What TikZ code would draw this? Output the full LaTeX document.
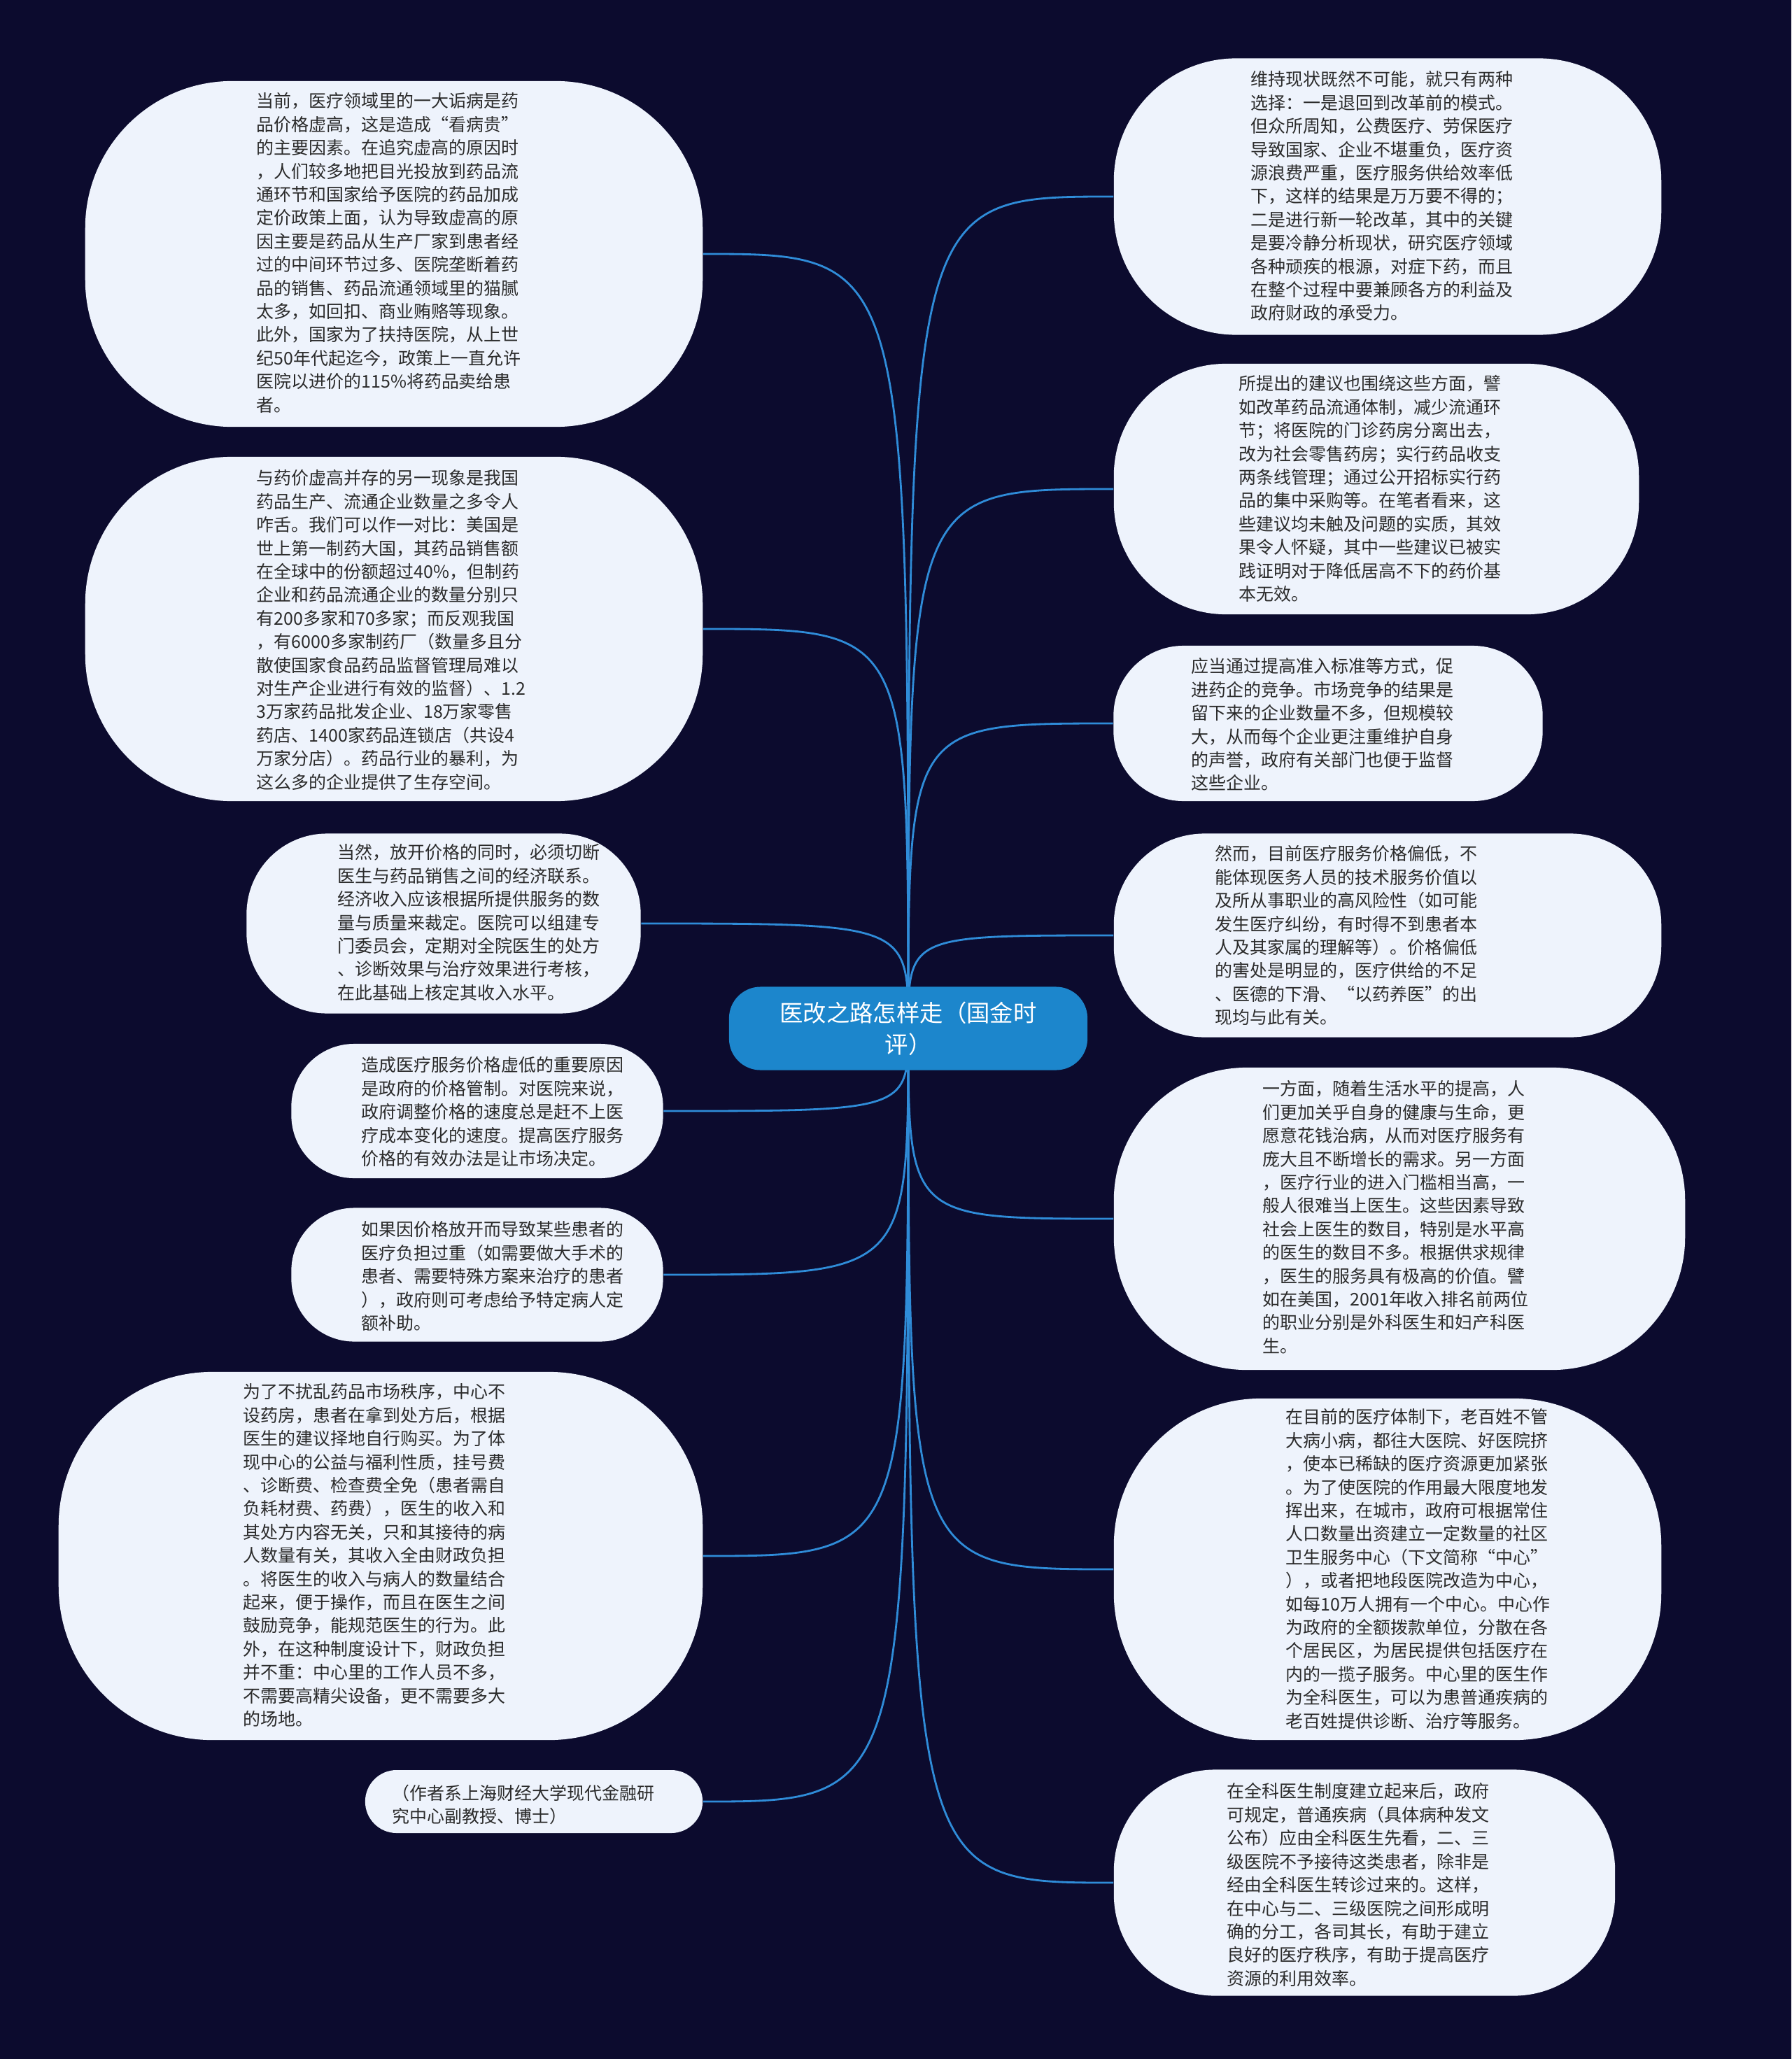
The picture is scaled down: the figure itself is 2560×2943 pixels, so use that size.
\documentclass[tikz,border=0pt]{standalone}
\usepackage{fontspec}
\setmainfont{Noto Sans CJK SC}
\usepackage{tikz}
\usetikzlibrary{backgrounds}
\definecolor{bgnavy}{HTML}{0C0B2E}
\definecolor{bubblefill}{HTML}{EEF3FC}
\definecolor{linkblue}{HTML}{2F8CD8}
\definecolor{rootblue}{HTML}{1C86CC}
\definecolor{textgrey}{HTML}{2B2B2B}

\begin{document}
\begin{tikzpicture}[x=0.01cm, y=-0.01cm,
  bubble/.style n args={3}{rectangle, fill=bubblefill, inner sep=0pt, minimum width=#1, minimum height=#2, rounded corners=#3},
  txt/.style={anchor=north west, inner sep=0pt, align=left, text=textgrey, font=\fontsize{7.1}{9.5}\selectfont},
  link/.style={draw=linkblue, line width=0.8pt}]
  \useasboundingbox (0,0) rectangle (2560,2943);

  \node [bubble={8.82cm}{4.94cm}{2.1cm}] (lb1) at (563,363) {};
  \node [txt] (lb1t) at (366,132) {当前，医疗领域里的一大诟病是药\\品价格虚高，这是造成“看病贵”\\的主要因素。在追究虚高的原因时\\，人们较多地把目光投放到药品流\\通环节和国家给予医院的药品加成\\定价政策上面，认为导致虚高的原\\因主要是药品从生产厂家到患者经\\过的中间环节过多、医院垄断着药\\品的销售、药品流通领域里的猫腻\\太多，如回扣、商业贿赂等现象。\\此外，国家为了扶持医院，从上世\\纪50年代起迄今，政策上一直允许\\医院以进价的115\%将药品卖给患\\者。};
  \node [bubble={8.82cm}{4.92cm}{2.1cm}] (lb2) at (563,899) {};
  \node [txt] (lb2t) at (366,671) {与药价虚高并存的另一现象是我国\\药品生产、流通企业数量之多令人\\咋舌。我们可以作一对比：美国是\\世上第一制药大国，其药品销售额\\在全球中的份额超过40\%，但制药\\企业和药品流通企业的数量分别只\\有200多家和70多家；而反观我国\\，有6000多家制药厂（数量多且分\\散使国家食品药品监督管理局难以\\对生产企业进行有效的监督）、1.2\\3万家药品批发企业、18万家零售\\药店、1400家药品连锁店（共设4\\万家分店）。药品行业的暴利，为\\这么多的企业提供了生存空间。};
  \node [bubble={5.63cm}{2.57cm}{1.15cm}] (lb3) at (634,1320) {};
  \node [txt] (lb3t) at (482,1206) {当然，放开价格的同时，必须切断\\医生与药品销售之间的经济联系。\\经济收入应该根据所提供服务的数\\量与质量来裁定。医院可以组建专\\门委员会，定期对全院医生的处方\\、诊断效果与治疗效果进行考核，\\在此基础上核定其收入水平。};
  \node [bubble={5.31cm}{1.92cm}{0.9cm}] (lb4) at (682,1588) {};
  \node [txt] (lb4t) at (516,1510) {造成医疗服务价格虚低的重要原因\\是政府的价格管制。对医院来说，\\政府调整价格的速度总是赶不上医\\疗成本变化的速度。提高医疗服务\\价格的有效办法是让市场决定。};
  \node [bubble={5.31cm}{1.91cm}{0.9cm}] (lb5) at (682,1822) {};
  \node [txt] (lb5t) at (516,1745) {如果因价格放开而导致某些患者的\\医疗负担过重（如需要做大手术的\\患者、需要特殊方案来治疗的患者\\），政府则可考虑给予特定病人定\\额补助。};
  \node [bubble={9.2cm}{5.26cm}{2.2cm}] (lb6) at (544,2224) {};
  \node [txt] (lb6t) at (347,1977) {为了不扰乱药品市场秩序，中心不\\设药房，患者在拿到处方后，根据\\医生的建议择地自行购买。为了体\\现中心的公益与福利性质，挂号费\\、诊断费、检查费全免（患者需自\\负耗材费、药费），医生的收入和\\其处方内容无关，只和其接待的病\\人数量有关，其收入全由财政负担\\。将医生的收入与病人的数量结合\\起来，便于操作，而且在医生之间\\鼓励竞争，能规范医生的行为。此\\外，在这种制度设计下，财政负担\\并不重：中心里的工作人员不多，\\不需要高精尖设备，更不需要多大\\的场地。};
  \node [bubble={4.82cm}{0.9cm}{0.45cm}] (lb7) at (763,2575) {};
  \node [txt] (lb7t) at (560,2550) {（作者系上海财经大学现代金融研\\究中心副教授、博士）};

  \node [bubble={7.82cm}{3.95cm}{1.75cm}] (rb1) at (1983,281) {};
  \node [txt] (rb1t) at (1787,101) {维持现状既然不可能，就只有两种\\选择：一是退回到改革前的模式。\\但众所周知，公费医疗、劳保医疗\\导致国家、企业不堪重负，医疗资\\源浪费严重，医疗服务供给效率低\\下，这样的结果是万万要不得的；\\二是进行新一轮改革，其中的关键\\是要冷静分析现状，研究医疗领域\\各种顽疾的根源，对症下药，而且\\在整个过程中要兼顾各方的利益及\\政府财政的承受力。};
  \node [bubble={7.5cm}{3.58cm}{1.6cm}] (rb2) at (1967,699) {};
  \node [txt] (rb2t) at (1770,536) {所提出的建议也围绕这些方面，譬\\如改革药品流通体制，减少流通环\\节；将医院的门诊药房分离出去，\\改为社会零售药房；实行药品收支\\两条线管理；通过公开招标实行药\\品的集中采购等。在笔者看来，这\\些建议均未触及问题的实质，其效\\果令人怀疑，其中一些建议已被实\\践证明对于降低居高不下的药价基\\本无效。};
  \node [bubble={6.13cm}{2.22cm}{1.0cm}] (rb3) at (1898,1034) {};
  \node [txt] (rb3t) at (1702,940) {应当通过提高准入标准等方式，促\\进药企的竞争。市场竞争的结果是\\留下来的企业数量不多，但规模较\\大，从而每个企业更注重维护自身\\的声誉，政府有关部门也便于监督\\这些企业。};
  \node [bubble={7.82cm}{2.91cm}{1.3cm}] (rb4) at (1983,1337) {};
  \node [txt] (rb4t) at (1736,1208) {然而，目前医疗服务价格偏低，不\\能体现医务人员的技术服务价值以\\及所从事职业的高风险性（如可能\\发生医疗纠纷，有时得不到患者本\\人及其家属的理解等）。价格偏低\\的害处是明显的，医疗供给的不足\\、医德的下滑、“以药养医”的出\\现均与此有关。};
  \node [bubble={8.16cm}{4.32cm}{1.9cm}] (rb5) at (2000,1742) {};
  \node [txt] (rb5t) at (1804,1544) {一方面，随着生活水平的提高，人\\们更加关乎自身的健康与生命，更\\愿意花钱治病，从而对医疗服务有\\庞大且不断增长的需求。另一方面\\，医疗行业的进入门槛相当高，一\\般人很难当上医生。这些因素导致\\社会上医生的数目，特别是水平高\\的医生的数目不多。根据供求规律\\，医生的服务具有极高的价值。譬\\如在美国，2001年收入排名前两位\\的职业分别是外科医生和妇产科医\\生。};
  \node [bubble={7.82cm}{4.88cm}{2.1cm}] (rb6) at (1983,2243) {};
  \node [txt] (rb6t) at (1837,2013) {在目前的医疗体制下，老百姓不管\\大病小病，都往大医院、好医院挤\\，使本已稀缺的医疗资源更加紧张\\。为了使医院的作用最大限度地发\\挥出来，在城市，政府可根据常住\\人口数量出资建立一定数量的社区\\卫生服务中心（下文简称“中心”\\），或者把地段医院改造为中心，\\如每10万人拥有一个中心。中心作\\为政府的全额拨款单位，分散在各\\个居民区，为居民提供包括医疗在\\内的一揽子服务。中心里的医生作\\为全科医生，可以为患普通疾病的\\老百姓提供诊断、治疗等服务。};
  \node [bubble={7.16cm}{3.23cm}{1.45cm}] (rb7) at (1950,2691) {};
  \node [txt] (rb7t) at (1753,2548) {在全科医生制度建立起来后，政府\\可规定，普通疾病（具体病种发文\\公布）应由全科医生先看，二、三\\级医院不予接待这类患者，除非是\\经由全科医生转诊过来的。这样，\\在中心与二、三级医院之间形成明\\确的分工，各司其长，有助于建立\\良好的医疗秩序，有助于提高医疗\\资源的利用效率。};

  \node [rectangle, fill=rootblue, rounded corners=0.45cm, minimum width=5.12cm, minimum height=1.19cm, align=center, text=white, font=\fontsize{9.5}{12.8}\selectfont] (root) at (1298,1470) {医改之路怎样走（国金时\\评）};

  \begin{scope}[on background layer]
    \fill [bgnavy] (0,0) rectangle (2560,2943);
    \draw [link] (root.center) .. controls (root.center |- lb1.east) .. (lb1.east);
    \draw [link] (root.center) .. controls (root.center |- lb2.east) .. (lb2.east);
    \draw [link] (root.center) .. controls (root.center |- lb3.east) .. (lb3.east);
    \draw [link] (root.center) .. controls (root.center |- lb4.east) .. (lb4.east);
    \draw [link] (root.center) .. controls (root.center |- lb5.east) .. (lb5.east);
    \draw [link] (root.center) .. controls (root.center |- lb6.east) .. (lb6.east);
    \draw [link] (root.center) .. controls (root.center |- lb7.east) .. (lb7.east);
    \draw [link] (root.center) .. controls (root.center |- rb1.west) .. (rb1.west);
    \draw [link] (root.center) .. controls (root.center |- rb2.west) .. (rb2.west);
    \draw [link] (root.center) .. controls (root.center |- rb3.west) .. (rb3.west);
    \draw [link] (root.center) .. controls (root.center |- rb4.west) .. (rb4.west);
    \draw [link] (root.center) .. controls (root.center |- rb5.west) .. (rb5.west);
    \draw [link] (root.center) .. controls (root.center |- rb6.west) .. (rb6.west);
    \draw [link] (root.center) .. controls (root.center |- rb7.west) .. (rb7.west);
  \end{scope}
\end{tikzpicture}
\end{document}
